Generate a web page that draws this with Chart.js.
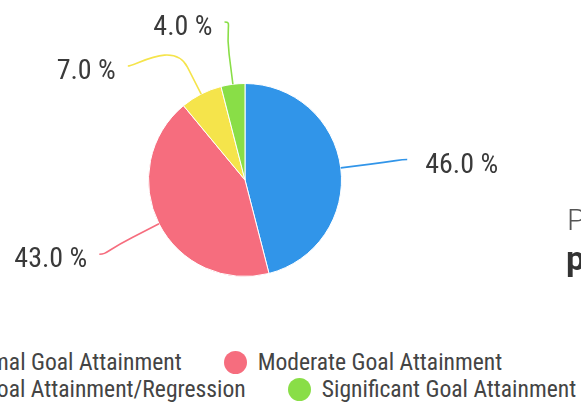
<!DOCTYPE html>
<html>
<head>
<meta charset="utf-8">
<script src="https://cdn.jsdelivr.net/npm/chart.js@4.4.1/dist/chart.umd.min.js"></script>
<style>
  html, body { margin: 0; padding: 0; background: #fff; }
  body { width: 581px; height: 403px; overflow: hidden; position: relative; }
  #chart-box { position: absolute; left: 0; top: 0; width: 581px; height: 345px; }
  #legend {
    position: absolute; left: -83px; top: 349px; width: 700px;
    display: flex; flex-wrap: wrap; justify-content: flex-start; column-gap: 42px;
    font-family: "Roboto Condensed", Roboto, sans-serif; font-size: 23.6px; color: #444;
  }
  #legend .item { display: flex; align-items: center; height: 27px; line-height: 27px; white-space: nowrap; }
  #legend .dot { width: 23px; height: 23px; border-radius: 50%; margin-right: 11px; }
  .side-title { position: absolute; left: 567px; top: 202px; font-family: Roboto, sans-serif; font-weight: 300; font-size: 30px; color: #555; white-space: nowrap; }
  .side-value { position: absolute; left: 566px; top: 238px; font-family: Roboto, sans-serif; font-weight: 700; font-size: 34px; color: #333; white-space: nowrap; }
</style>
</head>
<body>
<div id="chart-box"><canvas id="goal-chart"></canvas></div>
<div id="legend"></div>
<div class="side-title">Progress</div>
<div class="side-value">progress</div>

<script>
// ===== Data =====
const categories = [
  "Minimal Goal Attainment",
  "Moderate Goal Attainment",
  "No Goal Attainment/Regression",
  "Significant Goal Attainment"
];
const percentages = [46.0, 43.0, 7.0, 4.0];
const sliceColors = ["#3195e9", "#f66d7e", "#f5e44b", "#89de47"];

// ===== Outside labels with soft connectors =====
const outsideLabels = {
  id: 'outsideLabels',
  afterDatasetsDraw(chart) {
    const ctx = chart.ctx;
    const meta = chart.getDatasetMeta(0);
    const ds = chart.data.datasets[0];
    const items = meta.data.map((arc, i) => {
      const p = arc.getProps(['x', 'y', 'startAngle', 'endAngle', 'outerRadius'], true);
      const mid = (p.startAngle + p.endAngle) / 2;
      const cos = Math.cos(mid), sin = Math.sin(mid);
      const R = p.outerRadius + 67;
      const y0 = p.y + R * sin;
      return { i, cx: p.x, cy: p.y, r: p.outerRadius, cos, sin, R, right: cos >= 0, y0, y: y0 };
    });

    // push labels apart on each side
    [true, false].forEach(side => {
      const list = items.filter(it => it.right === side).sort((a, b) => a.y - b.y);
      let prev = null;
      list.forEach(it => {
        if (it.y < 22) it.y = 22;
        if (prev && it.y < prev.y + 44) it.y = prev.y + 44;
        prev = it;
      });
    });

    ctx.save();
    ctx.font = '28px "Roboto Condensed", Roboto, sans-serif';
    ctx.textBaseline = 'middle';
    items.forEach(it => {
      // x from natural y when only clamped at top, else from moved y
      const yForX = it.y - it.y0 < 6 ? it.y0 : it.y;
      const dy = yForX - it.cy;
      const dx = Math.sqrt(Math.max(it.R * it.R - dy * dy, 0));
      const ex = it.right ? it.cx + dx : it.cx - dx;
      const ey = it.y;
      const tx = it.cx + it.r * it.cos, ty = it.cy + it.r * it.sin;
      const bx = it.cx + (it.r + 30) * it.cos, by = it.cy + (it.r + 30) * it.sin;

      ctx.beginPath();
      ctx.moveTo(ex, ey);
      ctx.bezierCurveTo(ex + (it.right ? -8 : 8), ey, 2 * bx - tx, 2 * by - ty, bx, by);
      ctx.lineTo(tx, ty);
      ctx.strokeStyle = ds.backgroundColor[it.i];
      ctx.lineWidth = 1.6;
      ctx.stroke();

      ctx.fillStyle = '#3a3a3a';
      ctx.textAlign = it.right ? 'left' : 'right';
      const txt = ds.data[it.i].toFixed(1) + ' %';
      ctx.fillText(txt, it.right ? ex + 18 : ex - 12, ey + 6);
    });
    ctx.restore();
  }
};

const ctx = document.getElementById('goal-chart').getContext('2d');
const chart = new Chart(ctx, {
  type: 'pie',
  data: {
    labels: categories,
    datasets: [{
      data: percentages,
      backgroundColor: sliceColors,
      borderColor: '#ffffff',
      borderWidth: 1
    }]
  },
  options: {
    responsive: true,
    maintainAspectRatio: false,
    animation: false,
    layout: { padding: { left: 148, right: 239, top: 83, bottom: 68 } },
    plugins: {
      legend: { display: false },
      tooltip: { enabled: true }
    }
  },
  plugins: [outsideLabels]
});

// ===== HTML legend built from the chart =====
const legendBox = document.getElementById('legend');
chart.options.plugins.legend.labels.generateLabels(chart).forEach(item => {
  const el = document.createElement('div');
  el.className = 'item';
  const dot = document.createElement('span');
  dot.className = 'dot';
  dot.style.background = item.fillStyle;
  const label = document.createElement('span');
  label.textContent = item.text;
  el.appendChild(dot);
  el.appendChild(label);
  legendBox.appendChild(el);
});
</script>
</body>
</html>
